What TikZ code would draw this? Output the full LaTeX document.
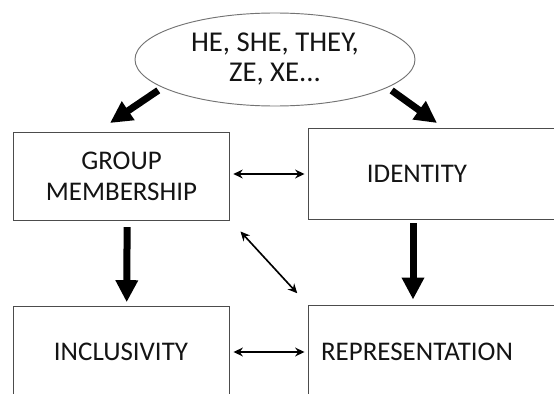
\documentclass[tikz,border=0pt]{standalone}
\usepackage{fontspec}
\setmainfont{Carlito}
\usetikzlibrary{shapes.geometric,arrows.meta,calc}

\tikzset{
	pbox/.style={rectangle, draw=black!70, line width=0.8pt, minimum width=6.5cm, minimum height=2.64cm,
		align=center, text=black!92, font=\fontsize{23}{26.5}\selectfont},
	pronoun/.style={ellipse, draw=black!55, line width=0.8pt, minimum width=8.4cm, minimum height=2.79cm,
		inner sep=0pt, align=center, text=black!92, font=\fontsize{24.5}{25.6}\selectfont},
	frame/.style={draw=black!70, line width=0.8pt},
	bigarrow/.style={line width=0.21cm, -{Triangle[width=0.64cm,length=0.66cm]}},
	linkarrow/.style={line width=1.4pt, {Stealth[length=8pt,width=7.5pt]}-{Stealth[length=8pt,width=7.5pt]}}
}

\begin{document}
\begin{tikzpicture}[x=0.03cm,y=-0.03cm]
	\useasboundingbox (0,0) rectangle (554,394);
	\clip (0,0) rectangle (554,394);

	\node[pronoun] (pron) at (275,59.5) {HE, SHE, THEY,\\ZE, XE...};

	\node[pbox] (group) at (121.5,176) {GROUP\\MEMBERSHIP};
	\node[pbox,draw=none,minimum width=6.48cm,minimum height=2.7cm] (ident) at (417,174) {IDENTITY};
	\node[pbox,minimum width=6.48cm,minimum height=2.76cm] (incl) at (121,352) {INCLUSIVITY};
	\node[pbox,draw=none,minimum width=6.48cm,minimum height=2.76cm] (repr) at (417,352) {REPRESENTATION};

	% the right boxes run off the page
	\draw[frame] ($(ident.north east)+(60,0)$) -- (ident.north west) -- (ident.south west) -- ++(300,0);
	\draw[frame] ($(repr.north east)+(60,0)$) -- (repr.north west) -- ++(0,120);

	\coordinate (gtip) at (110,123);
	\coordinate (itip) at (437,123);
	\draw[bigarrow,shorten <=0.15cm] (pron.194) -- (gtip);
	\draw[bigarrow,shorten <=0.15cm] (pron.346) -- (itip);

	\draw[bigarrow,shorten <=0.2cm,shorten >=0.1cm] ([xshift=0.17cm]group.south) -- ([xshift=0.17cm]incl.north);
	\draw[bigarrow,shorten <=0.12cm,shorten >=0.18cm] ([xshift=-0.12cm]ident.south) -- ([xshift=-0.12cm]repr.north);

	\draw[linkarrow,shorten <=0.09cm,shorten >=0.12cm] ([yshift=0.06cm]group.east) -- (ident.west);
	\draw[linkarrow,shorten <=0.12cm,shorten >=0.12cm] (incl.east) -- (repr.west);
	\draw[linkarrow,shorten <=0.45cm,shorten >=0.5cm] (group.south east) -- (repr.north west);
\end{tikzpicture}
\end{document}
